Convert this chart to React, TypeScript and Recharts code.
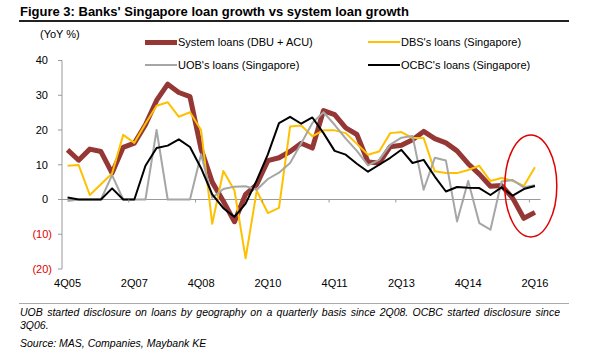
import React from "react"
import { LineChart, Line, XAxis, YAxis, ReferenceLine, ReferenceDot } from "recharts"

const quarters = [
  "4Q05", "1Q06", "2Q06", "3Q06", "4Q06", "1Q07", "2Q07", "3Q07", "4Q07", "1Q08", "2Q08",
  "3Q08", "4Q08", "1Q09", "2Q09", "3Q09", "4Q09", "1Q10", "2Q10", "3Q10", "4Q10", "1Q11",
  "2Q11", "3Q11", "4Q11", "1Q12", "2Q12", "3Q12", "4Q12", "1Q13", "2Q13", "3Q13", "4Q13",
  "1Q14", "2Q14", "3Q14", "4Q14", "1Q15", "2Q15", "3Q15", "4Q15", "1Q16", "2Q16",
]

// YoY %
const systemLoans = [
  14.3, 11.3, 14.5, 13.8, 7.6, 15, 16.2, 21.5, 28.5, 33.2, 30.8,
  29.6, 14.5, 5, -0.5, -6.4, 1.5, 4.3, 11.2, 12, 13.8, 16.2,
  14.8, 25.6, 24.4, 20.6, 18.7, 10.8, 10.5, 15.2, 15.6, 17.2, 19.6,
  17.5, 16.3, 14, 10.3, 7.3, 3.8, 4, 0.4, -5.4, -3.7,
]
const dbsLoans = [
  9.7, 9.9, 1.3, 4.4, 7.5, 18.6, 16.3, 21.8, 27, 28, 23.8,
  25.1, 20, -7, 8.2, 2.6, -16.9, 2.5, -3.9, -2.4, 21, 21.3,
  18.2, 19.9, 19.9, 19.1, 16, 12.9, 13.8, 19.1, 19.4, 17.7, 17.7,
  8.1, 7.6, 7.6, 8.5, 9.7, 5.3, 6.2, 5.4, 3.9, 9.3,
]
const uobLoans = [
  -0.4, 0, 0, 0, 7, 0, 0, 0, 20, 0, 0,
  0, 13, 0.5, 3, 3.7, 3.8, 2.8, 5.9, 7.7, 10.5, 16.2,
  22, 25.1, 21.5, 17.5, 14, 9.8, 11.4, 15.8, 17.8, 18.3, 2.8,
  12, 11.2, -6.3, 5.3, -6.8, -8.7, 5.2, 5.6, 3.5, 4.1,
]
const ocbcLoans = [
  0.6, 0, 0, 0, 3.2, 0, 0, 9.7, 14.8, 15.5, 17.3,
  15.1, 9, 1.5, -2.5, -5, -1.2, 5.5, 13, 22, 23.8, 21.8,
  23.6, 19.1, 14, 12.9, 10.3, 8, 10, 12, 14.3, 10.5, 11.4,
  6.6, 2.3, 3.6, 3.4, 3.3, 1.3, 3.5, 1.1, 3, 3.9,
]
const yTicks = [-20, -10, 0, 10, 20, 30, 40]

const data = quarters.map((q, i) => ({
  q,
  system: systemLoans[i],
  dbs: dbsLoans[i],
  uob: uobLoans[i],
  ocbc: ocbcLoans[i],
}))

const RED = "#953735"
const YELLOW = "#FFC000"
const GRAY = "#A6A6A6"
const AXIS = "#999999"
const FONT = "'Liberation Sans', Arial, sans-serif"

const PLOT_TOP = 60.5
const PLOT_H = 208.5
const ZERO_Y = PLOT_TOP + PLOT_H * (40 / 60)
const HALF_BAND = 5.56

const fmt = (v: number) => (v < 0 ? `(${Math.abs(v)})` : `${v}`)

function YTick({ x, y, payload }: any) {
  const neg = payload.value < 0
  return (
    <text
      x={neg ? x : x - 4}
      y={y}
      dy="0.35em"
      textAnchor="end"
      fontSize={11}
      fontFamily={FONT}
      fill={neg ? "#E00000" : "#000"}
    >
      {fmt(payload.value)}
    </text>
  )
}

function XTick({ x, y, payload, index }: any) {
  return (
    <g>
      {index > 0 && (
        <line x1={x - HALF_BAND} x2={x - HALF_BAND} y1={ZERO_Y} y2={ZERO_Y + 3} stroke={AXIS} />
      )}
      <text x={x} y={y + 10} textAnchor="middle" fontSize={11} fontFamily={FONT} fill="#000">
        {payload.value}
      </text>
    </g>
  )
}

function LegendItem({ left, top, color, width, label }: any) {
  return (
    <div style={{ position: "absolute", left, top, display: "flex", alignItems: "center", height: 14 }}>
      <div style={{ width: 32, height: width, background: color }} />
      <span style={{ fontSize: 11, marginLeft: 1, whiteSpace: "nowrap" }}>{label}</span>
    </div>
  )
}

export default function App() {
  return (
    <div
      style={{
        position: "absolute",
        left: 0,
        top: 0,
        width: 600,
        height: 355,
        background: "#fff",
        fontFamily: FONT,
        color: "#000",
      }}
    >
      <div style={{ position: "absolute", left: 20, top: 4, fontSize: 13, fontWeight: "bold", whiteSpace: "nowrap" }}>
        Figure 3: Banks' Singapore loan growth vs system loan growth
      </div>
      <div style={{ position: "absolute", left: 19, top: 20, width: 550, height: 2, background: "#222" }} />

      <LineChart
        width={600}
        height={355}
        data={data}
        margin={{ top: PLOT_TOP, right: 59.5, left: 12, bottom: 66 }}
        style={{ position: "absolute", left: 0, top: 0 }}
      >
        <XAxis
          dataKey="q"
          scale="point"
          padding={{ left: HALF_BAND, right: HALF_BAND }}
          interval={5}
          axisLine={false}
          tickLine={false}
          height={20}
          tick={<XTick />}
        />
        <YAxis
          type="number"
          domain={[-20, 40]}
          ticks={yTicks}
          width={50}
          tickSize={4}
          tickMargin={6}
          axisLine={{ stroke: AXIS }}
          tickLine={{ stroke: AXIS }}
          tick={<YTick />}
        />
        <ReferenceLine y={0} stroke={AXIS} strokeWidth={1} />
        <Line type="linear" dataKey="system" stroke={RED} strokeWidth={5} dot={false} isAnimationActive={false} strokeLinejoin="round" />
        <Line type="linear" dataKey="dbs" stroke={YELLOW} strokeWidth={2} dot={false} isAnimationActive={false} strokeLinejoin="round" />
        <Line type="linear" dataKey="uob" stroke={GRAY} strokeWidth={2} dot={false} isAnimationActive={false} strokeLinejoin="round" />
        <Line type="linear" dataKey="ocbc" stroke="#000" strokeWidth={2} dot={false} isAnimationActive={false} strokeLinejoin="round" />
        <ReferenceDot
          x="1Q16"
          y={3.9}
          r={0}
          ifOverflow="visible"
          shape={(p: any) => (
            <ellipse cx={p.cx + 7} cy={p.cy} rx={26} ry={51} fill="none" stroke="#E00000" strokeWidth={1.5} />
          )}
        />
      </LineChart>

      <div style={{ position: "absolute", left: 40, top: 28, fontSize: 11 }}>(YoY %)</div>
      <LegendItem left={145} top={35} color={RED} width={5} label="System loans (DBU + ACU)" />
      <LegendItem left={368} top={35} color={YELLOW} width={2} label="DBS's loans (Singapore)" />
      <LegendItem left={145} top={58} color={GRAY} width={2} label="UOB's loans (Singapore)" />
      <LegendItem left={368} top={58} color="#000" width={2} label="OCBC's loans (Singapore)" />

      <div style={{ position: "absolute", left: 19, top: 303, width: 550, height: 1, background: "#aaa" }} />
      <div
        style={{
          position: "absolute",
          left: 20,
          top: 306,
          width: 540,
          fontSize: 10.5,
          fontStyle: "italic",
          textAlign: "justify",
          lineHeight: "13px",
        }}
      >
        UOB started disclosure on loans by geography on a quarterly basis since 2Q08. OCBC started disclosure since
        3Q06.
      </div>
      <div style={{ position: "absolute", left: 20, top: 337, fontSize: 10.5, fontStyle: "italic" }}>
        Source: MAS, Companies, Maybank KE
      </div>
    </div>
  )
}
